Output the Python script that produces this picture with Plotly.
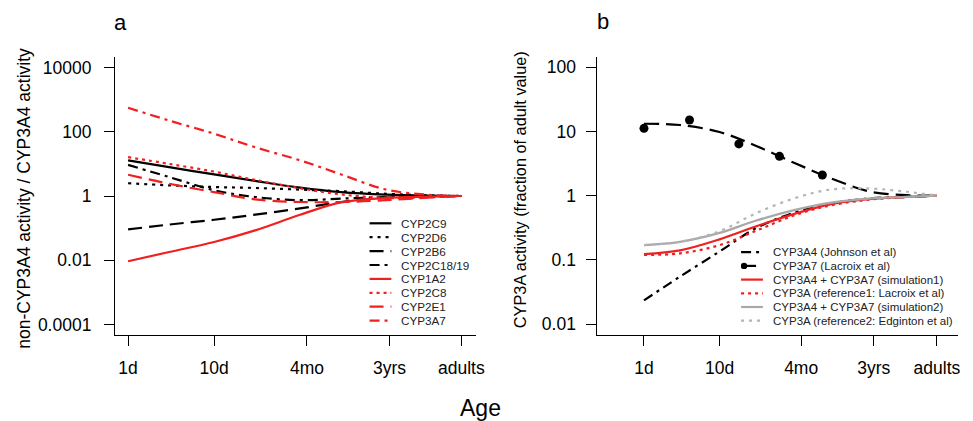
import math
import plotly.graph_objects as go

# ---------------- data ----------------
AGE_DAYS = [1, 3, 10, 30, 100, 300, 1000, 3000, 7500]
TICK_DAYS = [1, 10, 120, 1095, 7500]
TICK_LABELS = ["1d", "10d", "4mo", "3yrs", "adults"]

# panel a: non-CYP3A4 activity / CYP3A4 activity
A_NAMES = ["CYP2C9", "CYP2D6", "CYP2B6", "CYP2C18/19", "CYP1A2", "CYP2C8", "CYP2E1", "CYP3A7"]
CYP2C9 = [12.9, 7.9, 4.7, 2.95, 1.82, 1.32, 1.10, 1.02, 1.0]
CYP2D6 = [2.5, 2.15, 1.9, 1.78, 1.58, 1.41, 1.17, 1.05, 1.0]
CYP2B6 = [0.091, 0.129, 0.182, 0.263, 0.41, 0.65, 0.89, 0.98, 1.0]
CYP2C18_19 = [9.3, 3.9, 1.51, 0.93, 0.74, 0.83, 0.93, 0.98, 1.0]
CYP1A2 = [0.0093, 0.018, 0.037, 0.085, 0.26, 0.63, 0.87, 0.95, 1.0]
CYP2C8 = [16.2, 10.0, 5.75, 3.16, 1.74, 1.12, 0.87, 0.91, 1.0]
CYP2E1 = [4.6, 2.4, 1.32, 0.79, 0.65, 0.65, 0.74, 0.89, 1.0]
CYP3A7_RATIO = [560, 224, 87, 33, 12.9, 4.7, 1.58, 1.1, 1.0]
A_VALUES = [CYP2C9, CYP2D6, CYP2B6, CYP2C18_19, CYP1A2, CYP2C8, CYP2E1, CYP3A7_RATIO]
A_TICKS = [0.0001, 0.01, 1, 100, 10000]
A_TICK_LABELS = ["0.0001", "0.01", "1", "100", "10000"]

# panel b: CYP3A activity (fraction of adult value)
B_NAMES = ["CYP3A4 (Johnson et al)", "CYP3A7 (Lacroix et al)",
           "CYP3A4 + CYP3A7 (simulation1)", "CYP3A (reference1: Lacroix et al)",
           "CYP3A4 + CYP3A7 (simulation2)", "CYP3A (reference2: Edginton et al)"]
CYP3A4_J = [0.0234, 0.055, 0.135, 0.31, 0.55, 0.76, 0.91, 0.955, 1.0]
CYP3A7_L = [13.2, 12.6, 9.8, 6.0, 3.2, 1.86, 1.15, 1.02, 1.0]
SIM1 = [0.123, 0.141, 0.209, 0.331, 0.525, 0.74, 0.89, 0.955, 1.0]
REF1 = [0.120, 0.126, 0.170, 0.282, 0.50, 0.71, 0.87, 0.955, 1.0]
SIM2 = [0.170, 0.191, 0.263, 0.407, 0.60, 0.78, 0.91, 0.955, 1.0]
REF2 = [0.170, 0.191, 0.280, 0.53, 0.92, 1.25, 1.29, 1.15, 1.0]
B_VALUES = [CYP3A4_J, CYP3A7_L, SIM1, REF1, SIM2, REF2]
CYP3A7_OBS_DAYS = [1, 4, 18, 62, 229]
CYP3A7_OBS = [11.2, 15.1, 6.4, 4.1, 2.1]
B_TICKS = [0.01, 0.1, 1, 10, 100]
B_TICK_LABELS = ["0.01", "0.1", "1", "10", "100"]
REF_LEVEL = 1

# ---------------- styles ----------------
W, H = 973, 421
FONT = "Liberation Sans, Arial, sans-serif"
RED = "#f02020"
GRAY = "#a8a8a8"
LGRAY = "#b4b4b4"
DOT = "3px,5px"
RDOT = "3px,4px"
LDASH = "14px,7px"
DDOT = "10px,5px,3px,5px"
A_STYLES = [("black", "solid"), ("black", DOT), ("black", LDASH), ("black", DDOT),
            (RED, "solid"), (RED, RDOT), (RED, LDASH), (RED, DDOT)]
B_STYLES = [("black", DDOT), ("black", "15px,7px"), (RED, "solid"), (RED, RDOT),
            (GRAY, "solid"), (LGRAY, DOT)]
LW = 2.2


def px(x):
    return x / W


def py(y):
    return 1 - y / H


fig = go.Figure()

for name, vals, (col, dash) in zip(A_NAMES, A_VALUES, A_STYLES):
    fig.add_trace(go.Scatter(x=AGE_DAYS, y=vals, mode="lines", name=name,
                             line=dict(color=col, dash=dash, width=LW, shape="spline", smoothing=1),
                             xaxis="x", yaxis="y", showlegend=False))

for name, vals, (col, dash) in zip(B_NAMES, B_VALUES, B_STYLES):
    fig.add_trace(go.Scatter(x=AGE_DAYS, y=vals, mode="lines", name=name,
                             line=dict(color=col, dash=dash, width=LW, shape="spline", smoothing=1),
                             xaxis="x2", yaxis="y2", showlegend=False))
fig.add_trace(go.Scatter(x=CYP3A7_OBS_DAYS, y=CYP3A7_OBS, mode="markers", name="CYP3A7 observed",
                         marker=dict(color="black", size=9), xaxis="x2", yaxis="y2", showlegend=False))

axis_common = dict(showline=True, linecolor="black", linewidth=1, ticks="outside", ticklen=10,
                   tickwidth=1, tickcolor="black", showgrid=False, zeroline=False,
                   tickfont=dict(family=FONT, size=17.5, color="black"), type="log")

YD = [py(335), py(57)]
fig.update_layout(
    width=W, height=H, margin=dict(l=0, r=0, t=0, b=0),
    paper_bgcolor="white", plot_bgcolor="white",
    xaxis=dict(domain=[px(116), px(480)], range=[-0.153, 4.04], tickvals=TICK_DAYS,
               ticktext=TICK_LABELS, anchor="y", ticklabelstandoff=7, **axis_common),
    yaxis=dict(domain=YD, range=[-4.33, 4.33], tickvals=A_TICKS, ticktext=A_TICK_LABELS,
               anchor="x", ticklabelstandoff=9, **axis_common),
    xaxis2=dict(domain=[px(603), px(967)], range=[-0.616, 4.155], tickvals=TICK_DAYS,
                ticktext=TICK_LABELS, anchor="y2", ticklabelstandoff=7, **axis_common),
    yaxis2=dict(domain=YD, range=[-2.17, 2.16], tickvals=B_TICKS, ticktext=B_TICK_LABELS,
                anchor="x2", ticklabelstandoff=7, **axis_common),
)

shapes = []
for xr, yr in (("x domain", "y"), ("x2 domain", "y2")):
    shapes.append(dict(type="line", xref=xr, yref=yr, x0=0, x1=1,
                       y0=math.log10(REF_LEVEL), y1=math.log10(REF_LEVEL),
                       line=dict(color="black", width=1), layer="below"))

annotations = []


def legend(names, styles, x0, x1, xt, y_first, dy, fsize, marker_idx=None):
    for i, (name, (col, dash)) in enumerate(zip(names, styles)):
        yy = y_first + i * dy
        shapes.append(dict(type="line", xref="paper", yref="paper", x0=px(x0), x1=px(x1),
                           y0=py(yy), y1=py(yy), line=dict(color=col, dash=dash, width=LW)))
        if marker_idx is not None and i == marker_idx:
            r = 3.2
            shapes.append(dict(type="circle", xref="paper", yref="paper",
                               x0=px(x0 + 3 - r), x1=px(x0 + 3 + r), y0=py(yy + r), y1=py(yy - r),
                               fillcolor="black", line=dict(color="black", width=0)))
        annotations.append(dict(x=px(xt), y=py(yy), xref="paper", yref="paper", text=name,
                                showarrow=False, xanchor="left", yanchor="middle",
                                font=dict(family=FONT, size=fsize, color="#222")))


legend(A_NAMES, A_STYLES, 373, 395, 403, 223.3, 13.9, 11.7)
legend(B_NAMES, B_STYLES, 748, 770, 778, 252.2, 13.7, 11.5, marker_idx=1)

annotations += [
    dict(x=px(24), y=py(198), xref="paper", yref="paper", text="non-CYP3A4 activity / CYP3A4 activity",
         textangle=-90, showarrow=False, xanchor="center", yanchor="middle",
         font=dict(family=FONT, size=17.5, color="black")),
    dict(x=px(525), y=py(190), xref="paper", yref="paper", text="CYP3A activity (fraction of adult value)",
         textangle=-90, showarrow=False, xanchor="center", yanchor="middle",
         font=dict(family=FONT, size=16.3, color="black")),
    dict(x=px(485), y=py(408), xref="paper", yref="paper", text="Age", showarrow=False,
         xanchor="center", yanchor="middle", font=dict(family=FONT, size=23, color="black")),
    dict(x=px(122), y=py(23), xref="paper", yref="paper", text="a", showarrow=False,
         xanchor="center", yanchor="middle", font=dict(family=FONT, size=22, color="black")),
    dict(x=px(609), y=py(22), xref="paper", yref="paper", text="b", showarrow=False,
         xanchor="center", yanchor="middle", font=dict(family=FONT, size=22, color="black")),
]

fig.update_layout(shapes=shapes, annotations=annotations)
fig.write_html("out.html", config={"displayModeBar": False},
               post_script="document.body.style.margin='0px';document.body.style.overflow='hidden';")
